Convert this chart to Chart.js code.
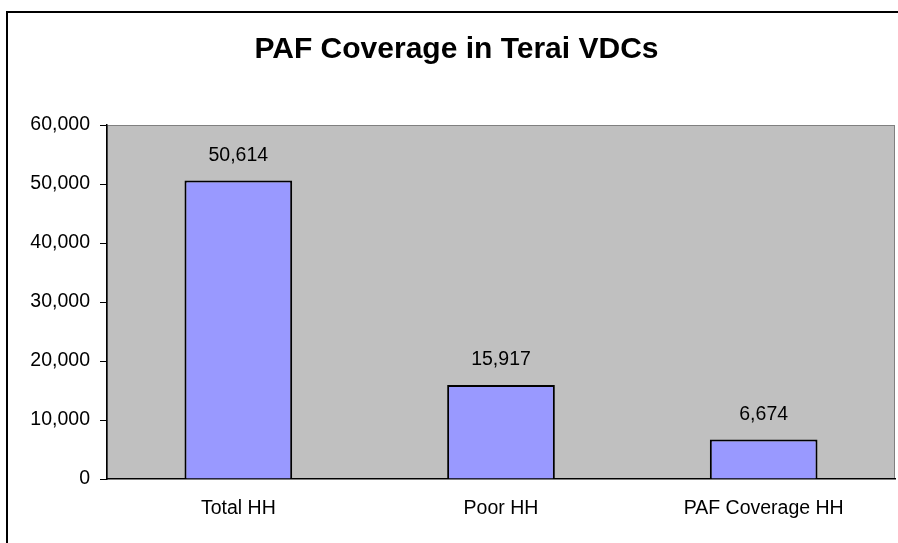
<!DOCTYPE html>
<html>
<head>
<meta charset="utf-8">
<script src="https://cdn.jsdelivr.net/npm/chart.js@4/dist/chart.umd.min.js"></script>
<style>
  body { margin: 0; background: #fff; }
  #wrap { width: 898px; height: 543px; position: relative; }
</style>
</head>
<body>
<div id="wrap"><canvas id="chart"></canvas></div>
<script>
// chart data
const categories = ["Total HH", "Poor HH", "PAF Coverage HH"];
const households = [50614, 15917, 6674];
const yTicks = [0, 10000, 20000, 30000, 40000, 50000, 60000];

const fmt = (v) => v.toLocaleString("en-US");
const FONT = "'Liberation Sans', Arial, sans-serif";

// frame around the chart + grey plot area
const backdrop = {
  id: "backdrop",
  beforeDraw(chart) {
    const { ctx, chartArea: a } = chart;
    ctx.save();
    ctx.fillStyle = "#c0c0c0";
    ctx.fillRect(a.left, a.top, a.right - a.left, a.bottom - a.top);
    ctx.strokeStyle = "#808080";
    ctx.lineWidth = 1;
    ctx.strokeRect(a.left + 0.5, a.top + 0.5, a.right - a.left - 1, a.bottom - a.top - 1);
    ctx.strokeStyle = "#000";
    ctx.lineWidth = 2;
    ctx.beginPath();
    ctx.moveTo(7, chart.height + 5);
    ctx.lineTo(7, 12);
    ctx.lineTo(chart.width + 5, 12);
    ctx.stroke();
    ctx.restore();
  },
};

// value labels above bars
const valueLabels = {
  id: "valueLabels",
  afterDatasetsDraw(chart) {
    const { ctx } = chart;
    const meta = chart.getDatasetMeta(0);
    ctx.save();
    ctx.font = "19.5px " + FONT;
    ctx.fillStyle = "#000";
    ctx.textAlign = "center";
    ctx.textBaseline = "middle";
    meta.data.forEach((bar, i) => {
      ctx.fillText(fmt(households[i]), bar.x, bar.y - 25);
    });
    ctx.restore();
  },
};

const ctx = document.getElementById("chart").getContext("2d");
new Chart(ctx, {
  type: "bar",
  data: {
    labels: categories,
    datasets: [
      {
        data: households,
        backgroundColor: "#9999ff",
        borderColor: "#000",
        borderWidth: 2,
        barPercentage: 0.41,
        categoryPercentage: 1,
      },
    ],
  },
  options: {
    responsive: true,
    maintainAspectRatio: false,
    animation: false,
    layout: { padding: { left: 18, right: 3, top: 0, bottom: 0 } },
    plugins: {
      legend: { display: false },
      tooltip: { enabled: false },
      title: {
        display: true,
        text: "PAF Coverage in Terai VDCs",
        color: "#000",
        font: { family: FONT, size: 30, weight: "bold", lineHeight: 1.2 },
        padding: { top: 32, bottom: 57 },
      },
    },
    scales: {
      x: {
        grid: { display: false, drawTicks: false },
        border: { display: true, color: "#000", width: 1.5 },
        ticks: {
          color: "#000",
          padding: 18,
          font: { family: FONT, size: 19.5 },
        },
        afterFit(scale) { scale.height = 64; },
      },
      y: {
        min: 0,
        max: 60000,
        afterBuildTicks(scale) { scale.ticks = yTicks.map((v) => ({ value: v })); },
        grid: { drawOnChartArea: false, drawTicks: true, tickLength: 7, color: "#000" },
        border: { display: true, color: "#000", width: 1.5 },
        ticks: {
          color: "#000",
          padding: 10,
          callback: (v) => fmt(v),
          font: { family: FONT, size: 19.5 },
        },
        afterFit(scale) { scale.width = 89; },
      },
    },
  },
  plugins: [backdrop, valueLabels],
});
</script>
</body>
</html>
